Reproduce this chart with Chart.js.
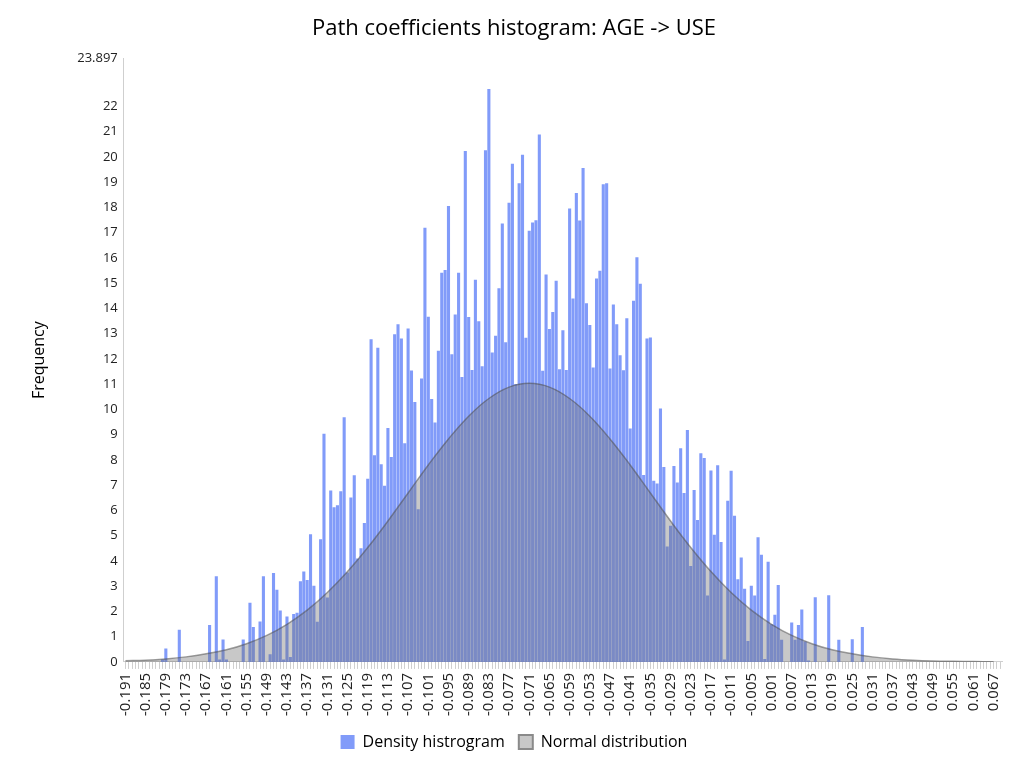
<!DOCTYPE html>
<html>
<head>
<meta charset="utf-8">
<script src="https://cdn.jsdelivr.net/npm/chart.js@4/dist/chart.umd.min.js"></script>
<style>
body{margin:0;background:#fff;}
#wrap{width:1024px;height:768px;}
</style>
</head>
<body>
<div id="wrap"><canvas id="grafico" width="1024" height="768"></canvas></div>
<script>
// bins of 0.001 from -0.191 to 0.069
const binStart = -0.191;
const binCount = 261;

// histogram heights, one per bin
const histograma = [
 0,0,0,0,0,0,0,0,0,0,0,0.1,0.53,0,0,0,1.27,0,0,0,
 0,0,0,0,0,1.46,0,3.39,0.1,0.89,0.1,0,0,0,0,0.89,0,2.34,1.38,0,
 1.6,3.39,0,0.3,3.52,2.86,2.04,0.1,1.8,0.2,1.9,1.95,3.19,3.58,3.24,5.06,3.02,1.59,4.86,9.03,
 2.55,6.79,6.12,6.2,6.76,9.69,3.54,6.51,7.39,4.1,4.5,5.5,7.25,12.78,8.18,12.44,7.83,6.98,9.26,8.11,
 12.97,13.37,12.81,8.66,13.2,11.54,10.29,6.05,11.22,17.19,13.67,10.41,9.48,12.32,15.41,15.52,18.05,12.18,13.76,15.41,
 11.28,20.23,13.66,11.56,15.13,13.49,11.71,20.26,22.69,12.25,12.92,14.8,17.36,12.66,18.18,19.73,11.0,18.95,20.08,12.84,
 17.07,17.4,17.49,20.88,11.53,15.34,13.18,13.86,15.09,11.59,13.13,11.56,17.95,14.39,18.57,17.48,19.56,14.2,13.34,11.66,
 15.18,15.49,18.91,18.95,11.62,14.15,13.37,12.14,11.55,13.61,9.24,14.3,16.02,14.97,7.4,12.81,12.85,7.17,7.06,10.03,
 7.72,4.57,5.39,7.76,7.1,8.46,6.69,9.18,3.8,6.81,5.62,8.26,8.07,2.63,7.58,5.04,7.79,4.75,0.1,6.38,
 7.57,5.79,3.27,4.13,2.9,0.83,3.02,2.63,4.94,4.24,0.12,3.97,1.49,1.87,3.05,0.88,0,0,1.56,0.88,
 1.46,2.08,0.81,0.06,0,2.56,0,0,0,2.64,0,0,0.88,0,0,0,0.9,0,0,1.38,
 0,0,0,0,0,0,0,0,0,0,0,0,0,0,0,0,0,0,0,0,
 0,0,0,0,0,0,0,0,0,0,0,0,0,0,0,0,0,0,0,0,
 0
];

// normal curve read at every labelled tick (-0.191, -0.185, ... 0.067)
const normalNosTicks = [
 0.05,0.07,0.12,0.2,0.32,0.48,0.72,1.05,1.49,2.05,2.75,3.58,4.53,5.58,6.69,7.8,8.83,9.73,10.43,10.88,
 11.03,
 10.88,10.43,9.73,8.83,7.8,6.69,5.58,4.53,3.58,2.75,2.05,1.49,1.05,0.72,0.48,0.32,0.2,0.12,0.07,0.04,0.024,0.013,0.007
];

const yMax = 23.897;

const labels = [];
for(let i=0;i<binCount;i++){
    labels.push((binStart + i*0.001).toFixed(3));
}

// put the curve points on the ticks, gaps in between
const normal = labels.map((l,i)=> i%6===0 ? normalNosTicks[i/6] : null);

const FONTE = "'Open Sans', 'Noto Sans', sans-serif";

new Chart(document.getElementById("grafico"),{
    type:"bar",
    data:{
        labels:labels,
        datasets:[
            {
                label:"Density histrogram",
                data:histograma,
                backgroundColor:"rgba(118,146,248,0.92)",
                borderWidth:0,
                barPercentage:1,
                categoryPercentage:0.92,
                order:2
            },
            {
                type:"line",
                label:"Normal distribution",
                data:normal,
                spanGaps:true,
                tension:0.4,
                fill:"origin",
                backgroundColor:"rgba(110,110,110,0.38)",
                borderColor:"rgba(80,80,80,0.55)",
                borderWidth:1.5,
                pointRadius:0,
                order:1
            }
        ]
    },
    options:{
        responsive:false,
        animation:false,
        layout:{padding:{left:26,right:22,top:10,bottom:8}},
        plugins:{
            title:{
                display:true,
                text:"Path coefficients histogram: AGE -> USE",
                color:"#000",
                font:{family:FONTE,size:22,weight:"normal"},
                padding:{top:6,bottom:16}
            },
            legend:{
                position:"bottom",
                labels:{
                    color:"#222",
                    font:{family:FONTE,size:16},
                    boxWidth:14,
                    boxHeight:14,
                    padding:14,
                    generateLabels:function(chart){
                        return [
                            {text:"Density histrogram",fillStyle:"rgba(118,146,248,0.92)",strokeStyle:"rgba(118,146,248,0.92)",lineWidth:0,datasetIndex:0},
                            {text:"Normal distribution",fillStyle:"#c8c8c8",strokeStyle:"#8a8a8a",lineWidth:2,datasetIndex:1}
                        ];
                    }
                }
            },
            tooltip:{enabled:false}
        },
        scales:{
            x:{
                grid:{display:true,drawOnChartArea:false,drawTicks:true,tickLength:7,color:"#cfcfcf",offset:false},
                border:{color:"#cfcfcf"},
                ticks:{
                    autoSkip:false,
                    maxRotation:90,
                    minRotation:90,
                    color:"#222",
                    padding:4,
                    font:{family:FONTE,size:15},
                    callback:function(v,i){ return i%6===0 ? labels[i] : ""; }
                }
            },
            y:{
                min:0,
                max:yMax,
                grid:{display:false,drawTicks:false},
                border:{color:"#cfcfcf"},
                title:{display:true,text:"Frequency",color:"#000",font:{family:FONTE,size:16},padding:{bottom:22}},
                ticks:{
                    color:"#222",
                    font:{family:FONTE,size:13},
                    padding:6,
                    stepSize:1,
                    callback:function(v){ return v===yMax ? "23.897" : v; }
                },
                afterBuildTicks:function(axis){
                    const t = axis.ticks.filter(k=>k.value<=22);
                    t.push({value:yMax});
                    axis.ticks = t;
                }
            }
        }
    }
});
</script>
</body>
</html>
